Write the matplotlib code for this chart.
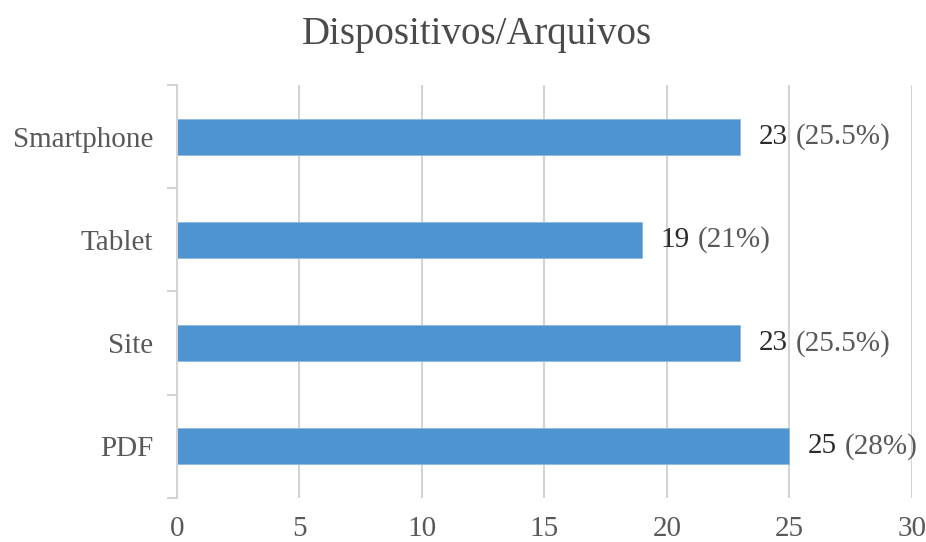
import matplotlib.pyplot as plt
from matplotlib.ticker import FixedLocator

categorias = ["PDF", "Site", "Tablet", "Smartphone"]
valores = [25, 23, 19, 23]
percentuais = ["(28%)", "(25.5%)", "(21%)", "(25.5%)"]
ticks_x = [0, 5, 10, 15, 20, 25, 30]

cor_barra = "#4E94D0"
cor_grade = "#D4D4D4"
cor_texto = "#595959"

plt.rcParams["font.family"] = ["Liberation Serif", "DejaVu Serif"]

fig = plt.figure(figsize=(9.26, 5.42), dpi=100)
ax = fig.add_axes([0.1911, 0.0812, 0.7937, 0.762])

pos = list(range(len(categorias)))
# faixa branca atras das barras (esconde a grade perto da barra)
ax.barh(pos, valores, height=0.45, color="white", zorder=1.5)
ax.barh(pos, valores, height=0.35, color=cor_barra, edgecolor="#8DB9E2",
        linewidth=0.6, zorder=2)

ax.set_xlim(0, 30)
ax.set_ylim(-0.5, 3.5)
ax.set_xticks(ticks_x)
ax.set_xticklabels([str(t) for t in ticks_x])
ax.set_yticks(pos)
ax.set_yticklabels(categorias)
ax.yaxis.set_minor_locator(FixedLocator([-0.5, 0.5, 1.5, 2.5, 3.5]))

ax.grid(axis="x", color=cor_grade, linewidth=1.5, zorder=0)
for lado in ["top", "right", "bottom"]:
    ax.spines[lado].set_visible(False)
ax.spines["left"].set_color(cor_grade)
ax.spines["left"].set_linewidth(1.5)

ax.tick_params(axis="x", length=0, pad=13, labelsize=21, labelcolor=cor_texto)
ax.tick_params(axis="y", which="major", length=0, pad=17, labelsize=21, labelcolor=cor_texto)
ax.tick_params(axis="y", which="minor", length=7, width=1.5, color=cor_grade)

for y, v, p in zip(pos, valores, percentuais):
    t = ax.annotate(str(v), xy=(v, y), xytext=(13, 0), textcoords="offset points",
                    ha="left", va="center", fontsize=21, color="#2B2B2B", zorder=3)
    ax.annotate(p, xy=(1, 0.5), xycoords=t, xytext=(6, 0), textcoords="offset points",
                ha="left", va="center", fontsize=21, color=cor_texto, zorder=3)

fig.suptitle("Dispositivos/Arquivos", x=0.515, y=0.97, fontsize=28, color="#4A4A4A", va="top")

plt.savefig("out.png", dpi=100)
